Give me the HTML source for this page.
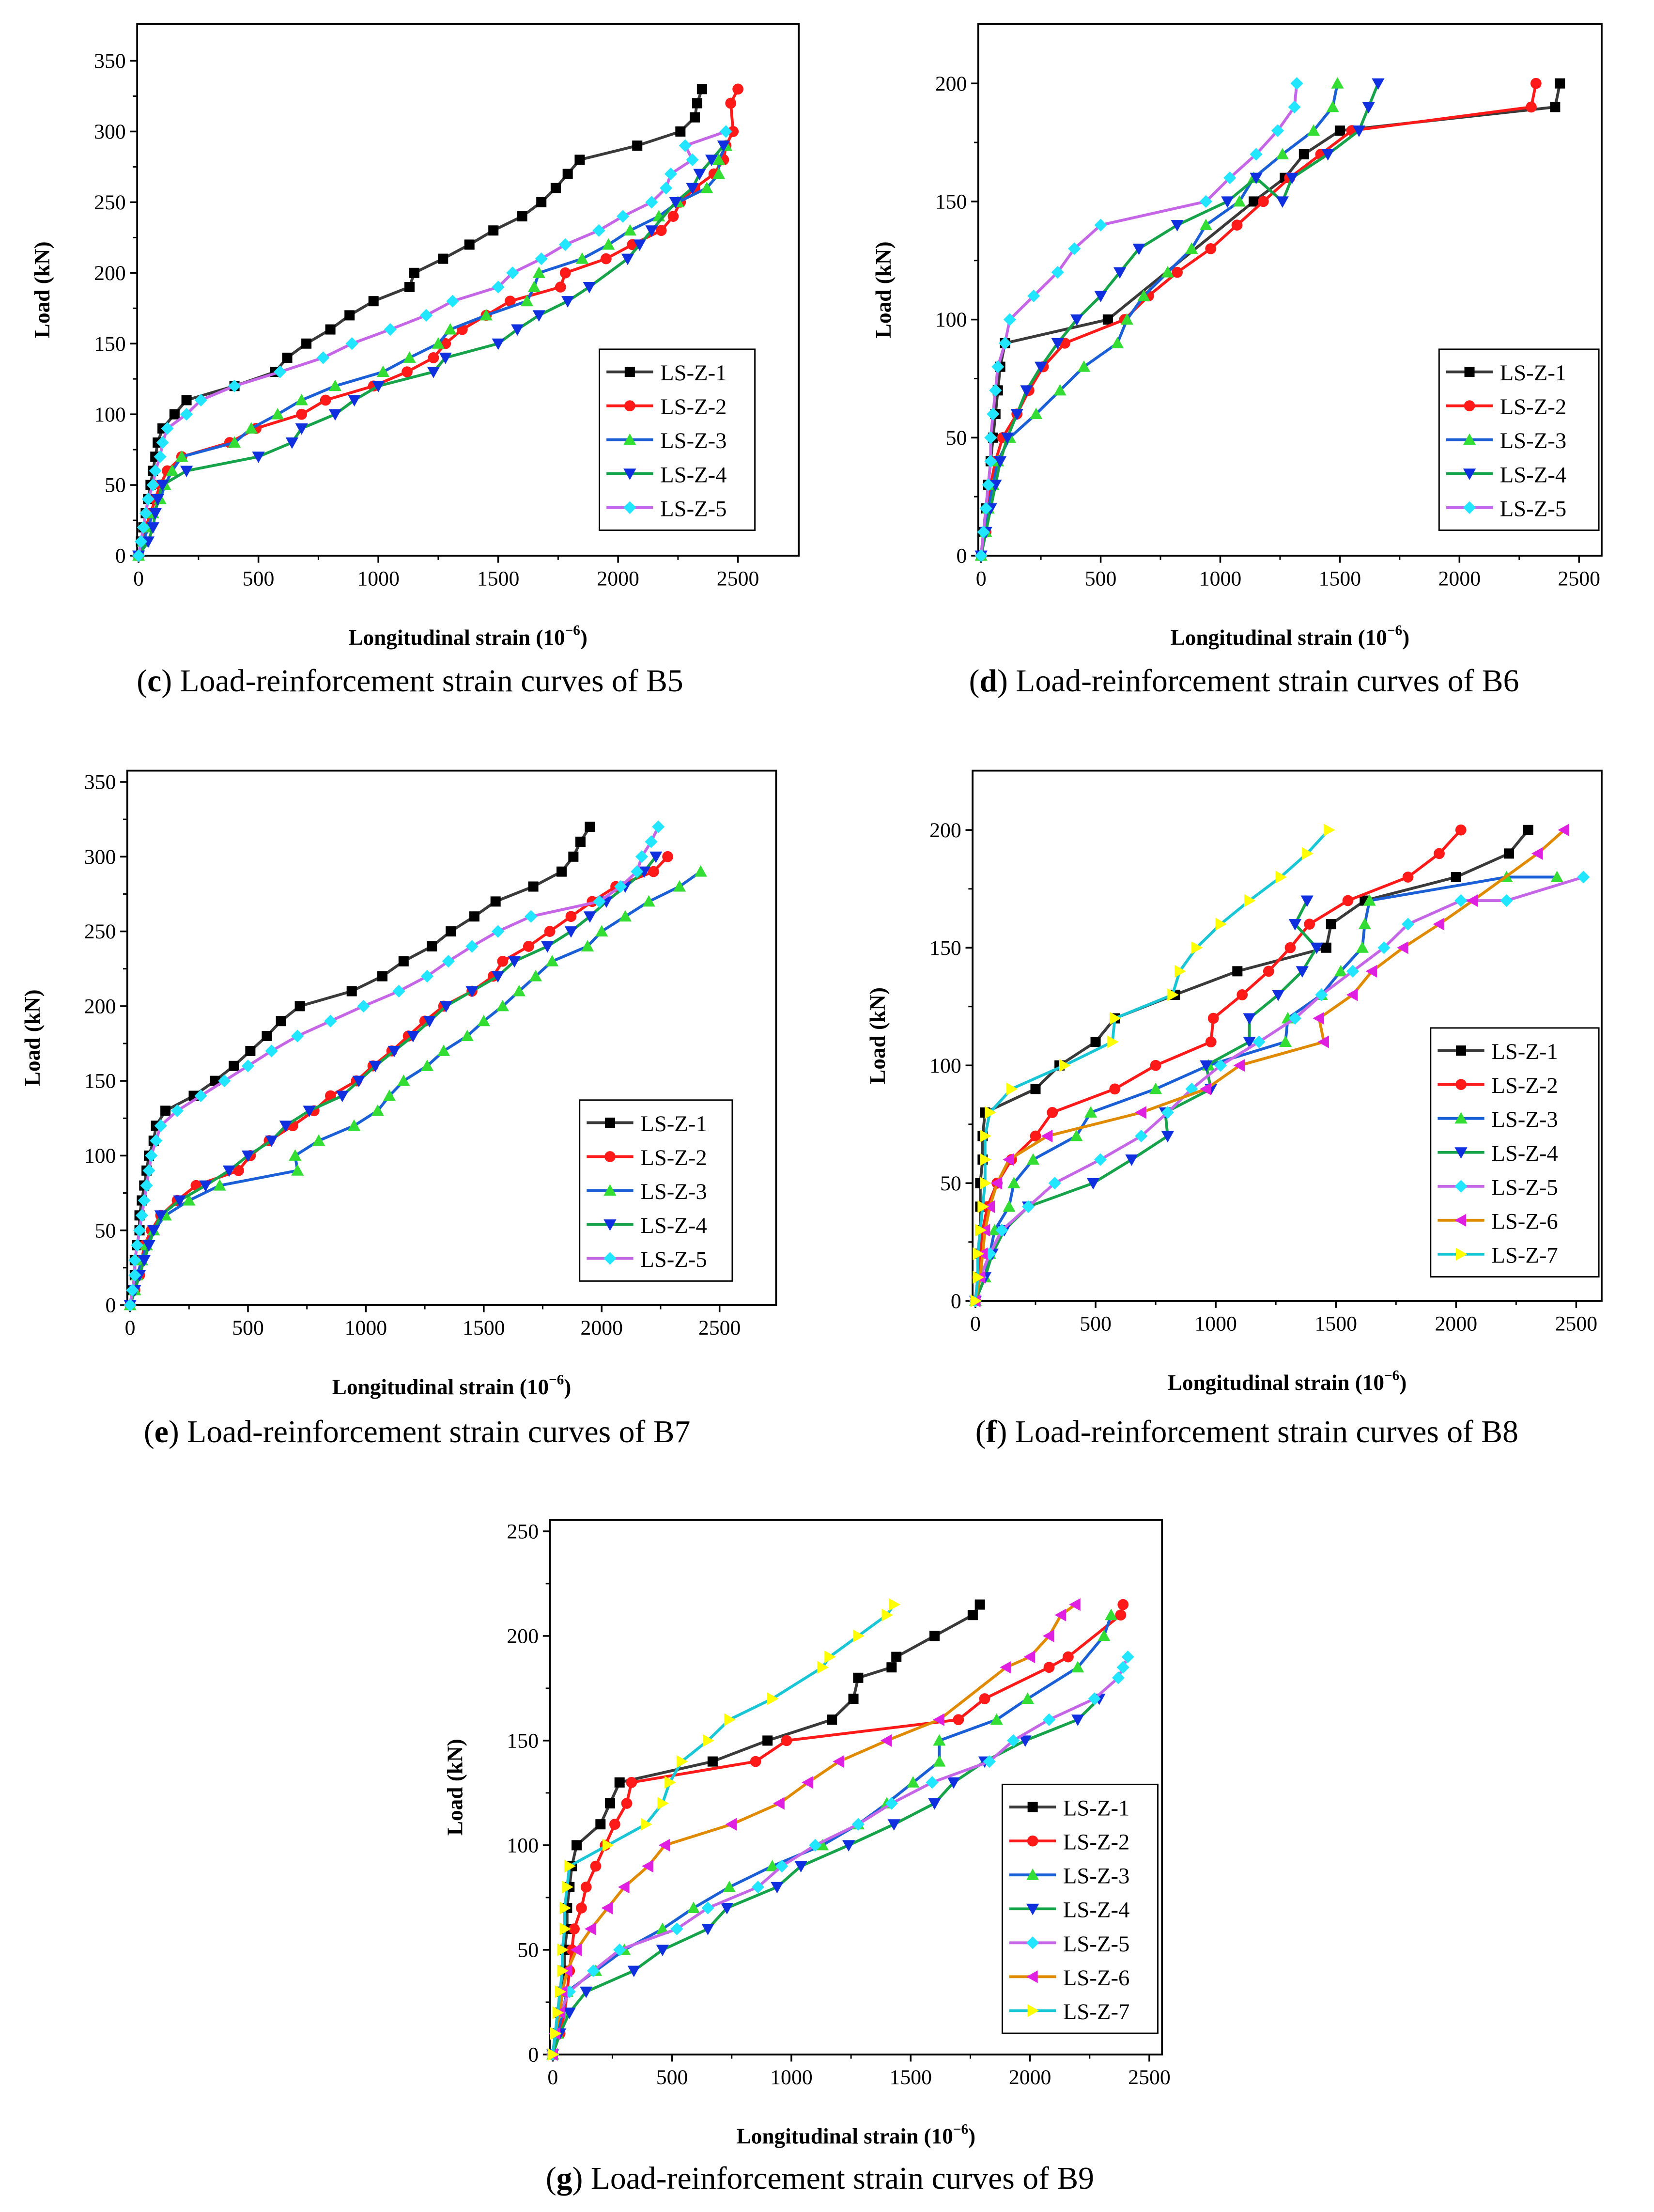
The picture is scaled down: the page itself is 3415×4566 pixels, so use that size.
<!DOCTYPE html>
<html><head><meta charset="utf-8"><title>Load-reinforcement strain curves of B5–B9</title>
<style>
html,body{margin:0;padding:0;background:#fff;}
svg{display:block;font-family:"Liberation Serif",serif;}
</style></head>
<body>
<svg id="fig" xmlns="http://www.w3.org/2000/svg" width="3415" height="4566" viewBox="0 0 1170 1564.4"></svg>
<script>
// ===== data (strain in 1e-6, load in kN) =====
const seriesNames = ["LS-Z-1","LS-Z-2","LS-Z-3","LS-Z-4","LS-Z-5","LS-Z-6","LS-Z-7"];
const xTicks = [0,500,1000,1500,2000,2500];
const yTicks350 = [0,50,100,150,200,250,300,350];
const yTicks200 = [0,50,100,150,200];
const yTicks250 = [0,50,100,150,200,250];

const B5_Z1=[[0,0],[10,10],[20,20],[30,30],[40,40],[50,50],[60,60],[70,70],[80,80],[100,90],[150,100],[200,110],[400,120],[570,130],[620,140],[700,150],[800,160],[880,170],[980,180],[1130,190],[1150,200],[1270,210],[1380,220],[1480,230],[1600,240],[1680,250],[1740,260],[1790,270],[1840,280],[2080,290],[2260,300],[2320,310],[2330,320],[2350,330]];
const B5_Z2=[[0,0],[20,10],[30,20],[50,30],[70,40],[90,50],[120,60],[180,70],[380,80],[490,90],[680,100],[780,110],[980,120],[1120,130],[1230,140],[1280,150],[1350,160],[1450,170],[1550,180],[1760,190],[1780,200],[1950,210],[2060,220],[2180,230],[2230,240],[2260,250],[2320,260],[2400,270],[2440,280],[2450,290],[2480,300],[2470,320],[2500,330]];
const B5_Z3=[[0,0],[20,10],[40,20],[60,30],[90,40],[110,50],[140,60],[180,70],[400,80],[470,90],[580,100],[680,110],[820,120],[1020,130],[1130,140],[1250,150],[1300,160],[1450,170],[1620,180],[1650,190],[1670,200],[1850,210],[1960,220],[2050,230],[2170,240],[2250,250],[2370,260],[2420,270],[2420,280],[2450,290]];
const B5_Z4=[[0,0],[40,10],[60,20],[70,30],[80,40],[100,50],[200,60],[500,70],[640,80],[680,90],[820,100],[900,110],[1000,120],[1230,130],[1280,140],[1500,150],[1580,160],[1670,170],[1790,180],[1880,190],[2040,210],[2090,220],[2140,230],[2240,250],[2310,260],[2340,270],[2390,280],[2440,290]];
const B5_Z5=[[0,0],[10,10],[20,20],[30,30],[40,40],[60,50],[70,60],[90,70],[100,80],[120,90],[200,100],[260,110],[400,120],[590,130],[770,140],[890,150],[1050,160],[1200,170],[1310,180],[1500,190],[1560,200],[1680,210],[1780,220],[1920,230],[2020,240],[2140,250],[2200,260],[2220,270],[2310,280],[2280,290],[2450,300]];

const B6_Z1=[[0,0],[10,10],[20,20],[30,30],[40,40],[50,50],[60,60],[70,70],[80,80],[100,90],[530,100],[1140,150],[1270,160],[1350,170],[1500,180],[2400,190],[2420,200]];
const B6_Z2=[[0,0],[20,10],[30,20],[40,30],[60,40],[90,50],[150,60],[200,70],[260,80],[350,90],[600,100],[700,110],[820,120],[960,130],[1070,140],[1180,150],[1290,160],[1420,170],[1550,180],[2300,190],[2320,200]];
const B6_Z3=[[0,0],[20,10],[30,20],[50,30],[70,40],[120,50],[230,60],[330,70],[430,80],[570,90],[610,100],[680,110],[780,120],[880,130],[940,140],[1080,150],[1140,160],[1260,170],[1390,180],[1470,190],[1490,200]];
const B6_Z4=[[0,0],[20,10],[40,20],[60,30],[80,40],[110,50],[150,60],[190,70],[250,80],[320,90],[400,100],[500,110],[580,120],[660,130],[820,140],[1030,150],[1150,160],[1260,150],[1300,160],[1450,170],[1580,180],[1620,190],[1660,200]];
const B6_Z5=[[0,0],[10,10],[20,20],[30,30],[40,40],[40,50],[50,60],[60,70],[70,80],[100,90],[120,100],[220,110],[320,120],[390,130],[500,140],[940,150],[1040,160],[1150,170],[1240,180],[1310,190],[1320,200]];

const B7_Z1=[[0,0],[10,10],[20,20],[20,30],[30,40],[40,50],[40,60],[50,70],[60,80],[70,90],[80,100],[100,110],[110,120],[150,130],[270,140],[360,150],[440,160],[510,170],[580,180],[640,190],[720,200],[940,210],[1070,220],[1160,230],[1280,240],[1360,250],[1460,260],[1550,270],[1710,280],[1830,290],[1880,300],[1910,310],[1950,320]];
const B7_Z2=[[0,0],[20,10],[40,20],[50,30],[60,40],[90,50],[130,60],[200,70],[280,80],[460,90],[510,100],[590,110],[690,120],[780,130],[850,140],[960,150],[1030,160],[1110,170],[1180,180],[1250,190],[1330,200],[1450,210],[1540,220],[1580,230],[1690,240],[1780,250],[1870,260],[1960,270],[2060,280],[2220,290],[2280,300]];
const B7_Z3=[[0,0],[20,10],[30,20],[50,30],[70,40],[100,50],[150,60],[250,70],[380,80],[710,90],[700,100],[800,110],[950,120],[1050,130],[1100,140],[1160,150],[1260,160],[1330,170],[1430,180],[1500,190],[1580,200],[1650,210],[1720,220],[1790,230],[1940,240],[2000,250],[2100,260],[2200,270],[2330,280],[2420,290]];
const B7_Z4=[[0,0],[20,10],[40,20],[60,30],[80,40],[100,50],[130,60],[210,70],[320,80],[420,90],[500,100],[600,110],[660,120],[760,130],[900,140],[970,150],[1040,160],[1120,170],[1200,180],[1270,190],[1340,200],[1450,210],[1560,220],[1630,230],[1770,240],[1870,250],[1950,260],[2020,270],[2100,280],[2180,290],[2230,300]];
const B7_Z5=[[0,0],[10,10],[20,20],[20,30],[30,40],[40,50],[50,60],[60,70],[70,80],[80,90],[90,100],[110,110],[130,120],[200,130],[300,140],[400,150],[500,160],[600,170],[710,180],[850,190],[990,200],[1140,210],[1260,220],[1350,230],[1450,240],[1560,250],[1700,260],[1990,270],[2080,280],[2150,290],[2170,300],[2210,310],[2240,320]];

const B8_Z1=[[0,0],[10,10],[10,20],[20,30],[20,40],[20,50],[30,60],[30,70],[40,80],[250,90],[350,100],[500,110],[580,120],[830,130],[1090,140],[1460,150],[1480,160],[1620,170],[2000,180],[2220,190],[2300,200]];
const B8_Z2=[[0,0],[10,10],[20,20],[30,30],[50,40],[90,50],[150,60],[250,70],[320,80],[580,90],[750,100],[980,110],[990,120],[1110,130],[1220,140],[1310,150],[1390,160],[1550,170],[1800,180],[1930,190],[2020,200]];
const B8_Z3=[[0,0],[40,10],[60,20],[80,30],[140,40],[160,50],[240,60],[420,70],[480,80],[750,90],[970,100],[1290,110],[1300,120],[1440,130],[1520,140],[1610,150],[1620,160],[1640,170],[2210,180],[2420,180]];
const B8_Z4=[[0,0],[40,10],[70,20],[120,30],[220,40],[490,50],[650,60],[800,70],[790,80],[980,90],[960,100],[1140,110],[1140,120],[1260,130],[1360,140],[1420,150],[1330,160],[1380,170]];
const B8_Z5=[[0,0],[20,10],[60,20],[110,30],[220,40],[330,50],[520,60],[690,70],[800,80],[900,90],[1020,100],[1180,110],[1330,120],[1440,130],[1570,140],[1700,150],[1800,160],[2020,170],[2210,170],[2530,180]];
const B8_Z6=[[0,0],[20,10],[30,20],[40,30],[60,40],[90,50],[140,60],[300,70],[690,80],[960,90],[1100,100],[1450,110],[1430,120],[1570,130],[1650,140],[1780,150],[1930,160],[2070,170],[2340,190],[2450,200]];
const B8_Z7=[[0,0],[10,10],[10,20],[20,30],[30,40],[40,50],[40,60],[40,70],[60,80],[150,90],[370,100],[570,110],[580,120],[820,130],[850,140],[920,150],[1020,160],[1140,170],[1270,180],[1380,190],[1470,200]];

const B9_Z1=[[0,0],[20,10],[30,20],[40,30],[50,40],[50,50],[60,60],[60,70],[70,80],[80,90],[100,100],[200,110],[240,120],[280,130],[670,140],[900,150],[1170,160],[1260,170],[1280,180],[1420,185],[1440,190],[1600,200],[1760,210],[1790,215]];
const B9_Z2=[[0,0],[30,10],[50,20],[60,30],[70,40],[80,50],[90,60],[120,70],[140,80],[180,90],[220,100],[260,110],[310,120],[330,130],[850,140],[980,150],[1700,160],[1810,170],[2080,185],[2160,190],[2380,210],[2390,215]];
const B9_Z3=[[0,0],[20,10],[40,20],[60,30],[180,40],[300,50],[460,60],[590,70],[740,80],[920,90],[1130,100],[1280,110],[1400,120],[1510,130],[1620,140],[1620,150],[1860,160],[1990,170],[2200,185],[2310,200],[2340,210]];
const B9_Z4=[[0,0],[30,10],[70,20],[140,30],[340,40],[460,50],[650,60],[730,70],[940,80],[1040,90],[1240,100],[1430,110],[1600,120],[1680,130],[1810,140],[1980,150],[2200,160],[2290,170]];
const B9_Z5=[[0,0],[10,10],[30,20],[70,30],[170,40],[280,50],[520,60],[650,70],[860,80],[960,90],[1100,100],[1280,110],[1420,120],[1590,130],[1830,140],[1930,150],[2080,160],[2270,170],[2370,180],[2390,185],[2410,190]];
const B9_Z6=[[0,0],[10,10],[30,20],[40,30],[60,40],[100,50],[160,60],[230,70],[300,80],[400,90],[470,100],[750,110],[950,120],[1070,130],[1200,140],[1400,150],[1620,160],[1900,185],[2000,190],[2080,200],[2130,210],[2190,215]];
const B9_Z7=[[0,0],[10,10],[20,20],[30,30],[40,40],[40,50],[50,60],[50,70],[60,80],[70,90],[230,100],[390,110],[460,120],[490,130],[540,140],[650,150],[740,160],[920,170],[1130,185],[1160,190],[1280,200],[1400,210],[1430,215]];

// ===== styles =====
const lineColors=["#3a3a3a","#ff1a1a","#1a5fd6","#16a34a","#c466e6","#e08a00","#19c6d6"];
const markColors=["#000000","#ff1a1a","#33dd33","#1030e0","#22e6ff","#e020e0","#ffff00"];
const markShapes=["square","circle","up","down","diamond","left","right"];

const NS="http://www.w3.org/2000/svg";
const svg=document.getElementById('fig');
function mk(tag,attrs,parent){const e=document.createElementNS(NS,tag);for(const k in attrs)e.setAttribute(k,attrs[k]);(parent||svg).appendChild(e);return e;}

function marker(g,shape,x,y,fill){
  const s=3.6;let e;
  if(shape==="square")e=mk('rect',{x:x-s,y:y-s,width:2*s,height:2*s,fill:fill},g);
  else if(shape==="circle")e=mk('circle',{cx:x,cy:y,r:s+0.3,fill:fill},g);
  else{
    let p;const t=s+0.9;
    if(shape==="up")p=[[x,y-t],[x+t,y+t*0.8],[x-t,y+t*0.8]];
    else if(shape==="down")p=[[x,y+t],[x+t,y-t*0.8],[x-t,y-t*0.8]];
    else if(shape==="diamond")p=[[x,y-t],[x+t,y],[x,y+t],[x-t,y]];
    else if(shape==="left")p=[[x-t,y],[x+t*0.8,y-t],[x+t*0.8,y+t]];
    else p=[[x+t],[0]] , p=[[x+t,y],[x-t*0.8,y-t],[x-t*0.8,y+t]];
    e=mk('polygon',{points:p.map(q=>q.join(',')).join(' '),fill:fill},g);
  }
  
  
}

function panel(cfg){
  const g=mk('g',{});
  
  
  const {L,R,T,B,x0,x2500,y0,yRef,yRefVal}=cfg;
  const sx=v=>x0+(x2500-x0)*v/2500;
  const sy=v=>y0-(y0-yRef)*v/yRefVal;
  // frame
  const fr=mk('rect',{x:L,y:T,width:R-L,height:B-T,fill:'none',stroke:'#000','stroke-width':1.3},g);
  
  
  // x ticks
  xTicks.forEach(v=>{
    const X=sx(v);
    mk('line',{x1:X,y1:B,x2:X,y2:B+5,stroke:'#000','stroke-width':1.2},g);
    const t=mk('text',{x:X,y:B+21,'font-size':15,'text-anchor':'middle'},g);t.textContent=v;
    
    
  });
  [250,750,1250,1750,2250].forEach(v=>mk('line',{x1:sx(v),y1:B,x2:sx(v),y2:B+3,stroke:'#000','stroke-width':1},g));
  cfg.yTicks.forEach(v=>{
    const Y=sy(v);
    mk('line',{x1:L,y1:Y,x2:L-5,y2:Y,stroke:'#000','stroke-width':1.2},g);
    const t=mk('text',{x:L-8,y:Y+5,'font-size':15,'text-anchor':'end'},g);t.textContent=v;
    
    
    if(v+25<=cfg.yTicks[cfg.yTicks.length-1]) mk('line',{x1:L,y1:sy(v+25),x2:L-3,y2:sy(v+25),stroke:'#000','stroke-width':1},g);
  });
  // titles
  const xt=mk('text',{x:(L+R)/2,y:B+63,'font-size':15.5,'font-weight':'bold','text-anchor':'middle'},g);
  xt.innerHTML='Longitudinal strain (10<tspan font-size="10" dy="-7">−6</tspan><tspan dy="7">)</tspan>';
  
  
  const yt=mk('text',{x:0,y:0,'font-size':15.5,'font-weight':'bold','text-anchor':'middle',transform:`translate(${L-62},${(T+B)/2}) rotate(-90)`},g);
  yt.textContent='Load (kN)';
  
  
  // series
  cfg.series.forEach((d,i)=>{
    const sg=mk('g',{},g);
    
    
    const pl=mk('polyline',{points:d.map(p=>sx(p[0])+','+sy(p[1])).join(' '),fill:'none',stroke:lineColors[i],'stroke-width':2},sg);
    
    
    d.forEach(p=>marker(sg,markShapes[i],sx(p[0]),sy(p[1]),markColors[i]));
  });
  // legend
  const lg=cfg.leg, n=cfg.series.length;
  const lgG=mk('g',{},g);
  
  
  mk('rect',{x:lg.x,y:lg.y,width:lg.w,height:n*24+8,fill:'#fff',stroke:'#000','stroke-width':1},lgG);
  for(let i=0;i<n;i++){
    const Y=lg.y+16+i*24;
    const eg=mk('g',{},lgG);
    
    
    mk('line',{x1:lg.x+5,y1:Y,x2:lg.x+38,y2:Y,stroke:lineColors[i],'stroke-width':2},eg);
    marker(eg,markShapes[i],lg.x+21.5,Y,markColors[i]);
    const t=mk('text',{x:lg.x+43,y:Y+6,'font-size':16},eg);t.textContent=seriesNames[i];
  }
  // caption
  const c=mk('text',{x:cfg.capX,y:cfg.capY,'font-size':22.5,'text-anchor':'middle'},g);
  c.innerHTML='(<tspan font-weight="bold">'+cfg.letter+'</tspan>) Load-reinforcement strain curves of '+cfg.beam;
  
  
}

panel({name:'chart-b5',L:97,R:565,T:17,B:393,x0:98,x2500:522,y0:393,yRef:43,yRefVal:350,yTicks:yTicks350,
  series:[B5_Z1,B5_Z2,B5_Z3,B5_Z4,B5_Z5],leg:{x:424,y:247,w:110},capX:290,capY:489,letter:'c',beam:'B5'});
panel({name:'chart-b6',L:692,R:1133,T:17,B:393,x0:694,x2500:1117,y0:393,yRef:59,yRefVal:200,yTicks:yTicks200,
  series:[B6_Z1,B6_Z2,B6_Z3,B6_Z4,B6_Z5],leg:{x:1018,y:247,w:113},capX:880,capY:489,letter:'d',beam:'B6'});
panel({name:'chart-b7',L:90,R:549,T:545,B:923,x0:92,x2500:509,y0:923,yRef:553,yRefVal:350,yTicks:yTicks350,
  series:[B7_Z1,B7_Z2,B7_Z3,B7_Z4,B7_Z5],leg:{x:410,y:778,w:108},capX:295,capY:1020,letter:'e',beam:'B7'});
panel({name:'chart-b8',L:688,R:1133,T:545,B:920,x0:690,x2500:1115,y0:920,yRef:587,yRefVal:200,yTicks:yTicks200,
  series:[B8_Z1,B8_Z2,B8_Z3,B8_Z4,B8_Z5,B8_Z6,B8_Z7],leg:{x:1012,y:727,w:119},capX:882,capY:1020,letter:'f',beam:'B8'});
panel({name:'chart-b9',L:389,R:822,T:1075,B:1453,x0:391,x2500:813,y0:1453,yRef:1083,yRefVal:250,yTicks:yTicks250,
  series:[B9_Z1,B9_Z2,B9_Z3,B9_Z4,B9_Z5,B9_Z6,B9_Z7],leg:{x:709,y:1262,w:110},capX:580,capY:1548,letter:'g',beam:'B9'});
</script>
</body></html>
